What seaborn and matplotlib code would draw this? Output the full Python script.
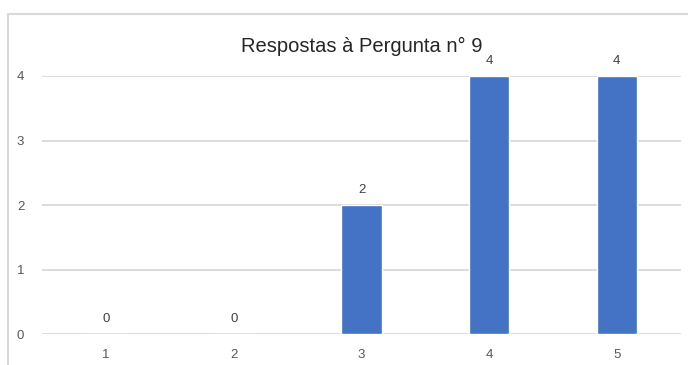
import matplotlib
matplotlib.use("Agg")
import matplotlib.pyplot as plt
import seaborn as sns
import pandas as pd
from matplotlib.patches import Rectangle

# Respostas por nível da escala
categorias = ["1", "2", "3", "4", "5"]
respostas = [0, 0, 2, 4, 4]
ticks_y = [0, 1, 2, 3, 4]
titulo = "Respostas à Pergunta n° 9"

sns.set_theme(style="white")
plt.rcParams["font.family"] = ["Liberation Sans", "DejaVu Sans"]

df = pd.DataFrame({"categoria": categorias, "respostas": respostas})

fig = plt.figure(figsize=(6.88, 3.65), dpi=100)
ax = fig.add_axes([0.0615, 0.0841, 0.9279, 0.7077])

sns.barplot(data=df, x="categoria", y="respostas", color="#4472C4",
            saturation=1, width=0.316, ax=ax, zorder=3)

ax.set_xlim(-0.5, 4.5)
ax.set_ylim(0, 4)
ax.set_yticks(ticks_y)
ax.set_yticklabels([str(t) for t in ticks_y])
ax.grid(axis="y", color="#d9d9d9", linewidth=1.3, zorder=0)
ax.set_axisbelow(True)
for s in ax.spines.values():
    s.set_visible(False)
ax.set_xlabel("")
ax.set_ylabel("")
ax.tick_params(axis="both", length=0, labelsize=9.5, colors="#595959")
ax.tick_params(axis="y", pad=13)
ax.tick_params(axis="x", pad=10.5)

# Rótulos de valor acima das barras
for i, v in enumerate(respostas):
    ax.annotate(str(v), xy=(i, v), xytext=(0, 10.8), textcoords="offset points",
                ha="center", va="center", fontsize=9.5, color="#404040",
                annotation_clip=False)

ax.set_title(titulo, fontsize=14.5, color="#262626", pad=17)

# Moldura da área do gráfico
fig.patches.append(Rectangle((8.3 / 688, -0.1), 1.2, 1.1 - 13.7 / 365,
                             transform=fig.transFigure, fill=False,
                             edgecolor="#d9d9d9", linewidth=1.5))

fig.savefig("out.png", dpi=100)
